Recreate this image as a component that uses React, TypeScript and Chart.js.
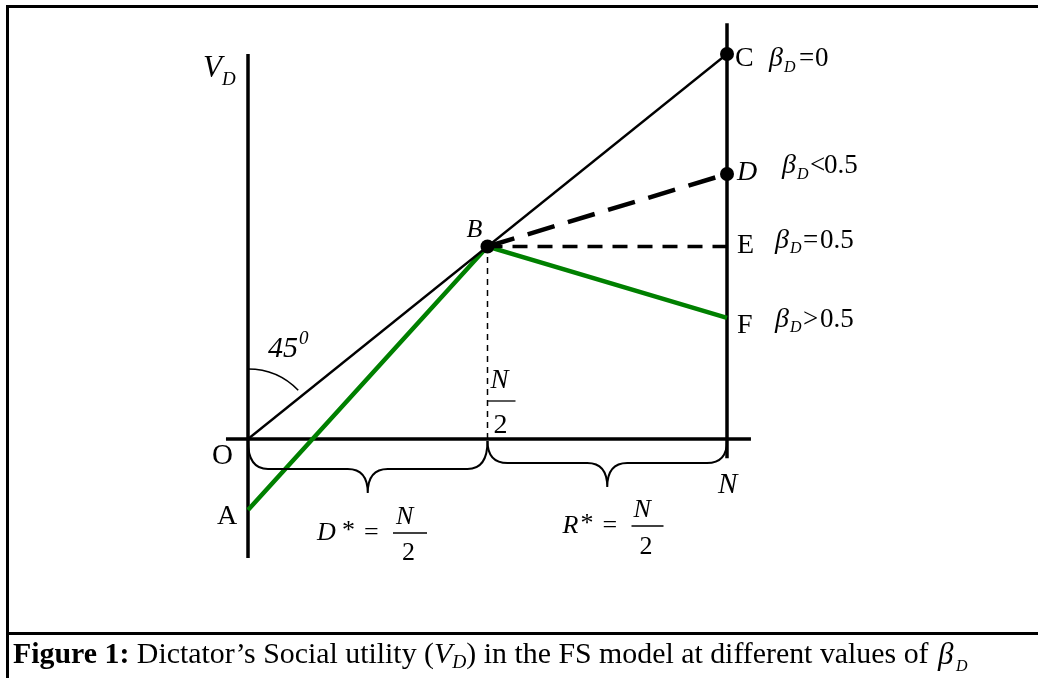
import React, { useEffect, useRef } from "react";
import { Chart, registerables } from "chart.js";

Chart.register(...registerables);

// Units: x and y measured in multiples of N/2 (O = 0, N/2 = 1, N = 2)
const xAxisExtent = [-0.092, 2.1];
const leftAxisExtent = [-0.618, 2.0];
const rightAxisExtent = [-0.1, 2.16];

// beta_D = 0 : O -> B -> C
const betaZeroX = [0, 1, 2];
const betaZeroY = [0, 1, 2];
// beta_D > 0.5 : A -> B -> F
const betaHighX = [0, 1, 2];
const betaHighY = [-0.369, 1, 0.629];
// beta_D < 0.5 : B -> D
const betaLowX = [1, 2];
const betaLowY = [1, 1.377];
// beta_D = 0.5 : B -> E
const betaHalfX = [1, 2];
const betaHalfY = [1, 1];
// N/2 marker from the x axis up to B
const halfMarkX = [1, 1];
const halfMarkY = [0, 1];
// Marked points B, C, D
const dotX = [1, 2, 2];
const dotY = [1, 2, 1.377];

const SERIF = "'Liberation Serif', 'Times New Roman', serif";
const fnt = (size: number, style = "") => `${style} ${size}px ${SERIF}`.trim();

const pts = (xs: number[], ys: number[]) => xs.map((x, i) => ({ x, y: ys[i] }));

function txt(ctx: CanvasRenderingContext2D, s: string, x: number, y: number, font: string) {
  ctx.font = font;
  ctx.fillText(s, x, y);
  return ctx.measureText(s).width;
}

function brace(ctx: CanvasRenderingContext2D, x1: number, x2: number, y0: number, ym: number, yt: number, r: number) {
  const xc = (x1 + x2) / 2;
  ctx.beginPath();
  ctx.moveTo(x1, y0);
  ctx.quadraticCurveTo(x1, ym, x1 + r, ym);
  ctx.lineTo(xc - r, ym);
  ctx.quadraticCurveTo(xc, ym, xc, yt);
  ctx.quadraticCurveTo(xc, ym, xc + r, ym);
  ctx.lineTo(x2 - r, ym);
  ctx.quadraticCurveTo(x2, ym, x2, y0);
  ctx.stroke();
}

const annotations = {
  id: "annotations",
  afterDraw(chart: any) {
    const { ctx, scales } = chart;
    const px = (v: number) => scales.x.getPixelForValue(v);
    const py = (v: number) => scales.y.getPixelForValue(v);
    const ox = px(0), oy = py(0), hx = px(1), nx = px(2);
    ctx.save();
    ctx.fillStyle = "#000";
    ctx.strokeStyle = "#000";
    ctx.textAlign = "left";
    ctx.textBaseline = "alphabetic";

    // frame and caption divider
    ctx.lineWidth = 3;
    ctx.beginPath();
    ctx.moveTo(7.5, 678);
    ctx.lineTo(7.5, 6.5);
    ctx.lineTo(1038, 6.5);
    ctx.stroke();
    ctx.beginPath();
    ctx.moveTo(7.5, 633.5);
    ctx.lineTo(1038, 633.5);
    ctx.stroke();

    // 45 degree arc
    ctx.lineWidth = 1.6;
    ctx.beginPath();
    ctx.arc(ox, oy, 70, -Math.PI / 2, -Math.PI / 2 + 0.8);
    ctx.stroke();

    // braces
    ctx.lineWidth = 2;
    brace(ctx, ox, hx, oy + 2, oy + 30, oy + 54, 20);
    brace(ctx, hx, nx, oy + 2, oy + 24, oy + 48, 20);

    // V_D
    txt(ctx, "V", ox - 45, oy - 362, fnt(31, "italic"));
    txt(ctx, "D", ox - 26, oy - 354, fnt(19, "italic"));

    // B
    const by = py(1);
    txt(ctx, "B", hx - 21, by - 10, fnt(26, "italic"));

    // C row
    const cy = py(2);
    txt(ctx, "C", nx + 8, cy + 12, fnt(28));
    txt(ctx, "\u03B2", nx + 42, cy + 12, fnt(28, "italic"));
    txt(ctx, "D", nx + 57, cy + 18, fnt(16, "italic"));
    txt(ctx, "=", nx + 72, cy + 12, fnt(27));
    txt(ctx, "0", nx + 88, cy + 12, fnt(27));

    // D row
    const dy = py(1.377);
    txt(ctx, "D", nx + 10, dy + 6, fnt(28, "italic"));
    txt(ctx, "\u03B2", nx + 55, dy - 1, fnt(28, "italic"));
    txt(ctx, "D", nx + 70, dy + 5, fnt(16, "italic"));
    txt(ctx, "<", nx + 83, dy - 1, fnt(27));
    txt(ctx, "0.5", nx + 97, dy - 1, fnt(27));

    // E row
    const ey = py(1);
    txt(ctx, "E", nx + 10, ey + 6.5, fnt(28));
    txt(ctx, "\u03B2", nx + 48, ey + 1.5, fnt(28, "italic"));
    txt(ctx, "D", nx + 63, ey + 6.5, fnt(16, "italic"));
    txt(ctx, "=", nx + 76, ey + 1.5, fnt(27));
    txt(ctx, "0.5", nx + 93, ey + 1.5, fnt(27));

    // F row
    const fy = py(0.629);
    txt(ctx, "F", nx + 10, fy + 15, fnt(28));
    txt(ctx, "\u03B2", nx + 48, fy + 9, fnt(28, "italic"));
    txt(ctx, "D", nx + 63, fy + 14, fnt(16, "italic"));
    txt(ctx, ">", nx + 76, fy + 9, fnt(27));
    txt(ctx, "0.5", nx + 93, fy + 9, fnt(27));

    // 45^0
    txt(ctx, "45", ox + 20, oy - 82, fnt(30, "italic"));
    txt(ctx, "0", ox + 51, oy - 95, fnt(19, "italic"));

    // O, A, N
    txt(ctx, "O", ox - 36, oy + 25, fnt(29));
    txt(ctx, "A", ox - 31, py(-0.369) + 14, fnt(28));
    txt(ctx, "N", nx - 9, oy + 54, fnt(29, "italic"));

    // N/2 at the marker
    ctx.lineWidth = 1.3;
    txt(ctx, "N", hx + 3, oy - 51, fnt(27, "italic"));
    ctx.beginPath();
    ctx.moveTo(hx, oy - 38);
    ctx.lineTo(hx + 28, oy - 38);
    ctx.stroke();
    txt(ctx, "2", hx + 6, oy - 6, fnt(28));

    // D* = N/2
    txt(ctx, "D", ox + 69, oy + 101, fnt(26, "italic"));
    txt(ctx, "*", ox + 94, oy + 99, fnt(26));
    txt(ctx, "=", ox + 116, oy + 101, fnt(26));
    ctx.beginPath();
    ctx.moveTo(ox + 145, oy + 94);
    ctx.lineTo(ox + 179, oy + 94);
    ctx.stroke();
    txt(ctx, "N", ox + 148, oy + 85, fnt(26, "italic"));
    txt(ctx, "2", ox + 154, oy + 121, fnt(26));

    // R* = N/2
    txt(ctx, "R", hx + 75, oy + 94, fnt(26, "italic"));
    txt(ctx, "*", hx + 93, oy + 92, fnt(26));
    txt(ctx, "=", hx + 115, oy + 94, fnt(26));
    ctx.beginPath();
    ctx.moveTo(hx + 144, oy + 87);
    ctx.lineTo(hx + 176, oy + 87);
    ctx.stroke();
    txt(ctx, "N", hx + 146, oy + 78, fnt(26, "italic"));
    txt(ctx, "2", hx + 152, oy + 115, fnt(26));

    // caption (font size chosen so the text spans the reference width)
    const base = 26;
    const mk = (k: number): [string, string, number][] => [
      ["Figure 1:", fnt(base * k, "bold"), 0],
      [" Dictator\u2019s Social utility (", fnt(base * k), 0],
      ["V", fnt(base * k, "italic"), 0],
      ["D", fnt(17 * k, "italic"), 5],
      [") in the FS model at different values of ", fnt(base * k), 0],
    ];
    let total = 0;
    for (const [s, f] of mk(1)) {
      ctx.font = f;
      total += ctx.measureText(s).width;
    }
    const k = Math.min(1.15, Math.max(0.85, (936 - 13) / total));
    let cx = 13;
    for (const [s, f, d] of mk(k)) {
      cx += txt(ctx, s, cx, 663 + d, f);
    }
    txt(ctx, "\u03B2", 938, 664, fnt(31, "italic"));
    txt(ctx, "D", 956, 671, fnt(16, "italic"));

    ctx.restore();
  },
};

export default function App() {
  const ref = useRef<HTMLCanvasElement | null>(null);
  useEffect(() => {
    document.body.style.margin = "0";
    const canvas = ref.current!;
    const line = (data: any, color: string, width: number, dash: number[] = []) => ({
      data,
      showLine: true,
      borderColor: color,
      backgroundColor: color,
      borderWidth: width,
      borderDash: dash,
      pointRadius: 0,
      clip: false as any,
      fill: false,
    });
    const chart = new Chart(canvas, {
      type: "scatter",
      data: {
        datasets: [
          {
            data: pts(dotX, dotY),
            showLine: false,
            pointRadius: 7,
            pointBackgroundColor: "#000",
            pointBorderColor: "#000",
            pointBorderWidth: 0,
            clip: false as any,
          },
          line(pts(betaZeroX, betaZeroY), "#000", 2.3),
          line(pts(betaLowX, betaLowY), "#000", 4.5, [28, 14]),
          line(pts(betaHalfX, betaHalfY), "#000", 3.5, [15, 10]),
          line(pts(betaHighX, betaHighY), "#008000", 4.5),
          line(pts(halfMarkX, halfMarkY), "#000", 1.5, [6, 5]),
          line(pts(xAxisExtent, [0, 0]), "#000", 3.5),
          line(pts([0, 0], leftAxisExtent), "#000", 3.5),
          line(pts([2, 2], rightAxisExtent), "#000", 3.5),
        ] as any,
      },
      options: {
        animation: false,
        responsive: false,
        devicePixelRatio: 1,
        layout: { padding: { left: 248, right: 311, top: 54, bottom: 239 } },
        scales: {
          x: { type: "linear", min: 0, max: 2, display: false },
          y: { type: "linear", min: 0, max: 2, display: false },
        },
        plugins: { legend: { display: false }, tooltip: { enabled: false } },
        events: [],
      },
      plugins: [annotations],
    });
    let alive = true;
    const fonts = (document as any).fonts;
    if (fonts && fonts.ready) {
      fonts.ready.then(() => {
        if (alive) chart.update();
      });
    }
    return () => {
      alive = false;
      chart.destroy();
    };
  }, []);
  return (
    <div style={{ width: 1038, height: 678, background: "#fff" }}>
      <canvas ref={ref} width={1038} height={678} style={{ display: "block" }} />
    </div>
  );
}
